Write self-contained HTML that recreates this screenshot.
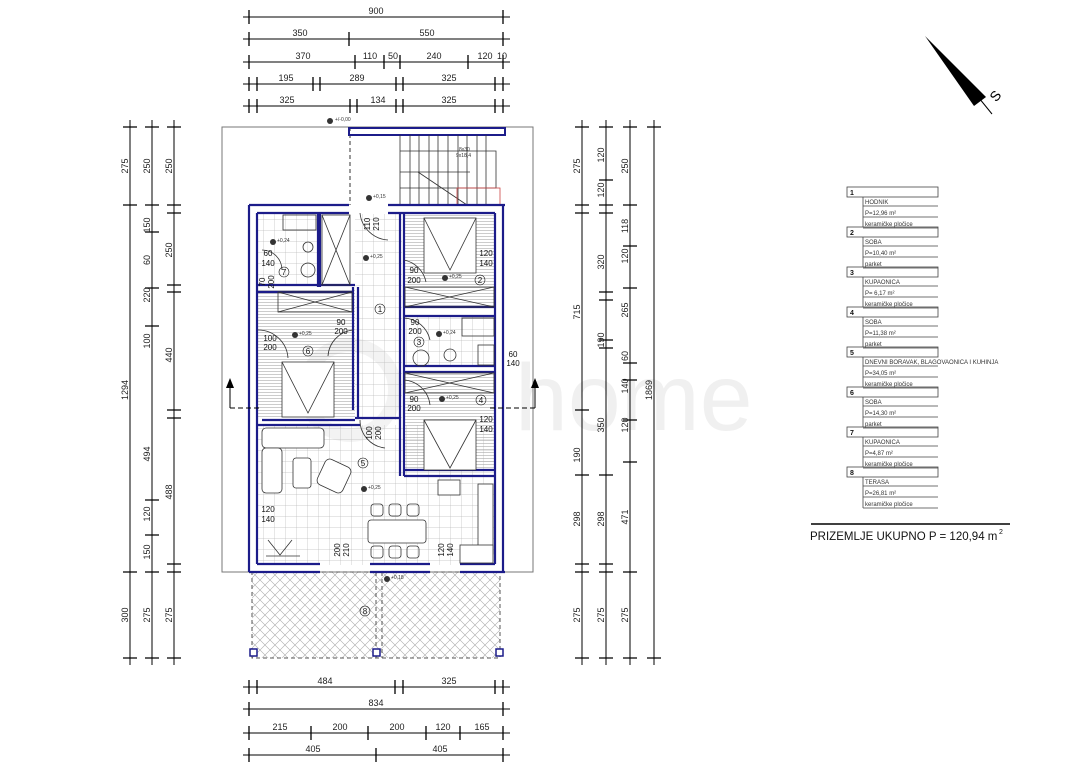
<!DOCTYPE html>
<html><head><meta charset="utf-8"><style>
html,body{margin:0;padding:0;background:#fff;}
svg{display:block;font-family:"Liberation Sans",sans-serif;}
.d{stroke:#000;stroke-width:1;fill:none}
.t{font-size:9px;fill:#222;text-anchor:middle}
.w{fill:none;stroke:#1c1c8a;stroke-width:2.2}
.lg{font-size:6px;fill:#333}
</style></head><body>
<svg width="1077" height="778" viewBox="0 0 1077 778" xmlns="http://www.w3.org/2000/svg">
<defs>
<pattern id="tile" width="11" height="11" patternUnits="userSpaceOnUse"><path d="M11 0V11M0 11H11" stroke="#bbb" stroke-width="0.7" fill="none"/></pattern>
<pattern id="park" width="6" height="3" patternUnits="userSpaceOnUse"><path d="M0 2.5H6" stroke="#aaa" stroke-width="0.6"/></pattern>
<pattern id="hatch" width="10" height="10" patternUnits="userSpaceOnUse"><path d="M0 0L10 10M10 0L0 10" stroke="#aaa" stroke-width="0.6"/></pattern>
</defs>

<!-- watermark -->
<text x="515" y="430" font-size="95" fill="#f0f0f0">home</text>
<circle cx="350" cy="390" r="45" fill="none" stroke="#f3f3f3" stroke-width="14"/>

<!-- top dimensions -->
<g class="d">
<line x1="243" y1="17" x2="510" y2="17"/>
<line x1="243" y1="39" x2="510" y2="39"/>
<line x1="243" y1="62" x2="510" y2="62"/>
<line x1="243" y1="84" x2="510" y2="84"/>
<line x1="243" y1="106" x2="510" y2="106"/>
<line x1="243" y1="687" x2="510" y2="687"/>
<line x1="243" y1="709" x2="510" y2="709"/>
<line x1="243" y1="733" x2="510" y2="733"/>
<line x1="243" y1="755" x2="510" y2="755"/>
</g>
<g stroke="#000" stroke-width="1.3">
<path d="M249 10V24M503 10V24M249 32V46M349 32V46M503 32V46M249 55V69M355 55V69M384 55V69M400 55V69M468 55V69M503 55V69M249 77V91M257 77V91M313 77V91M320 77V91M396 77V91M403 77V91M495 77V91M503 77V91M249 99V113M257 99V113M350 99V113M357 99V113M396 99V113M403 99V113M495 99V113M503 99V113"/>
<path d="M249 680V694M257 680V694M395 680V694M403 680V694M495 680V694M503 680V694M249 702V716M503 702V716M249 726V740M311 726V740M368 726V740M426 726V740M460 726V740M503 726V740M249 748V762M376 748V762M503 748V762"/>
</g>
<g class="t">
<text x="376" y="14">900</text>
<text x="300" y="36">350</text><text x="427" y="36">550</text>
<text x="303" y="59">370</text><text x="370" y="59">110</text><text x="393" y="59">50</text><text x="434" y="59">240</text><text x="485" y="59">120</text><text x="502" y="59">10</text>
<text x="286" y="81">195</text><text x="357" y="81">289</text><text x="449" y="81">325</text>
<text x="287" y="103">325</text><text x="378" y="103">134</text><text x="449" y="103">325</text>
<text x="325" y="684">484</text><text x="449" y="684">325</text>
<text x="376" y="706">834</text>
<text x="280" y="730">215</text><text x="340" y="730">200</text><text x="397" y="730">200</text><text x="443" y="730">120</text><text x="482" y="730">165</text>
<text x="313" y="752">405</text><text x="440" y="752">405</text>
</g>

<!-- vertical dims -->
<g class="d">
<line x1="130" y1="120" x2="130" y2="665"/>
<line x1="152" y1="120" x2="152" y2="665"/>
<line x1="174" y1="120" x2="174" y2="665"/>
<line x1="582" y1="120" x2="582" y2="665"/>
<line x1="606" y1="120" x2="606" y2="665"/>
<line x1="630" y1="120" x2="630" y2="665"/>
<line x1="654" y1="120" x2="654" y2="665"/>
</g>
<g stroke="#000" stroke-width="1.3">
<path d="M123 127H137M123 205H137M123 572H137M123 658H137"/>
<path d="M145 127H159M145 205H159M145 232H159M145 288H159M145 326H159M145 500H159M145 535H159M145 572H159M145 658H159"/>
<path d="M167 127H181M167 205H181M167 213H181M167 285H181M167 292H181M167 410H181M167 418H181M167 564H181M167 572H181M167 658H181"/>
<path d="M575 127H589M575 205H589M575 213H589M575 410H589M575 475H589M575 564H589M575 572H589M575 658H589"/>
<path d="M599 127H613M599 180H613M599 205H613M599 213H613M599 292H613M599 300H613M599 340H613M599 348H613M599 475H613M599 564H613M599 572H613M599 658H613"/>
<path d="M623 127H637M623 205H637M623 246H637M623 288H637M623 363H637M623 380H637M623 420H637M623 462H637M623 572H637M623 658H637"/>
<path d="M647 127H661M647 658H661"/>
</g>
<g class="t">
<text transform="translate(128,166) rotate(-90)">275</text>
<text transform="translate(128,390) rotate(-90)">1294</text>
<text transform="translate(128,615) rotate(-90)">300</text>
<text transform="translate(150,166) rotate(-90)">250</text>
<text transform="translate(150,225) rotate(-90)">150</text>
<text transform="translate(150,260) rotate(-90)">60</text>
<text transform="translate(150,295) rotate(-90)">220</text>
<text transform="translate(150,341) rotate(-90)">100</text>
<text transform="translate(150,454) rotate(-90)">494</text>
<text transform="translate(150,514) rotate(-90)">120</text>
<text transform="translate(150,552) rotate(-90)">150</text>
<text transform="translate(150,615) rotate(-90)">275</text>
<text transform="translate(172,166) rotate(-90)">250</text>
<text transform="translate(172,250) rotate(-90)">250</text>
<text transform="translate(172,355) rotate(-90)">440</text>
<text transform="translate(172,492) rotate(-90)">488</text>
<text transform="translate(172,615) rotate(-90)">275</text>
<text transform="translate(580,166) rotate(-90)">275</text>
<text transform="translate(580,312) rotate(-90)">715</text>
<text transform="translate(580,455) rotate(-90)">190</text>
<text transform="translate(580,519) rotate(-90)">298</text>
<text transform="translate(580,615) rotate(-90)">275</text>
<text transform="translate(604,155) rotate(-90)">120</text>
<text transform="translate(604,190) rotate(-90)">120</text>
<text transform="translate(604,262) rotate(-90)">320</text>
<text transform="translate(604,340) rotate(-90)">190</text>
<text transform="translate(604,425) rotate(-90)">350</text>
<text transform="translate(604,519) rotate(-90)">298</text>
<text transform="translate(604,615) rotate(-90)">275</text>
<text transform="translate(628,166) rotate(-90)">250</text>
<text transform="translate(628,226) rotate(-90)">118</text>
<text transform="translate(628,256) rotate(-90)">120</text>
<text transform="translate(628,310) rotate(-90)">265</text>
<text transform="translate(628,356) rotate(-90)">60</text>
<text transform="translate(628,386) rotate(-90)">140</text>
<text transform="translate(628,425) rotate(-90)">120</text>
<text transform="translate(628,517) rotate(-90)">471</text>
<text transform="translate(628,615) rotate(-90)">275</text>
<text transform="translate(652,390) rotate(-90)">1869</text>
</g>

<!-- site outline -->
<rect x="222" y="127" width="311" height="445" fill="none" stroke="#777" stroke-width="1"/>
<line x1="350" y1="127" x2="350" y2="205" stroke="#333" stroke-dasharray="4,3"/>

<!-- stairs -->
<g stroke="#333" stroke-width="0.8" fill="none">
<rect x="349" y="128" width="156" height="7" stroke="#1c1c8a" stroke-width="2"/>
<path d="M400 135V205M410 135V205M419 135V205M429 135V205M438 135V205M448 135V205M458 135V205M467 135V205M477 135V205M486 135V205"/>
<path d="M400 151H496V188H400M400 172H470"/>
<path d="M418 172L467 205"/>
</g>
<rect x="457" y="188" width="43" height="17" fill="none" stroke="#c44" stroke-width="0.8"/>
<text x="459" y="151" font-size="5" fill="#333">8x30</text>
<text x="456" y="157" font-size="5" fill="#333">9x18,4</text>

<!-- floor fills -->
<rect x="355" y="214" width="47" height="206" fill="url(#tile)"/>
<rect x="258" y="214" width="60" height="70" fill="url(#tile)"/>
<rect x="404" y="316" width="92" height="50" fill="url(#tile)"/>
<rect x="258" y="425" width="236" height="140" fill="url(#tile)"/>
<rect x="258" y="288" width="97" height="130" fill="url(#park)"/>
<rect x="404" y="214" width="90" height="93" fill="url(#park)"/>
<rect x="404" y="372" width="92" height="98" fill="url(#park)"/>
<rect x="252" y="572" width="248" height="86" fill="url(#hatch)"/>
<rect x="252" y="572" width="248" height="86" fill="none" stroke="#555" stroke-dasharray="4,3"/>
<line x1="376" y1="572" x2="376" y2="658" stroke="#555" stroke-dasharray="4,3"/>
<line x1="382" y1="572" x2="382" y2="658" stroke="#555" stroke-dasharray="4,3"/>
<g fill="#fff" stroke="#1c1c8a" stroke-width="1.5">
<rect x="250" y="649" width="7" height="7"/><rect x="373" y="649" width="7" height="7"/><rect x="496" y="649" width="7" height="7"/>
</g>

<!-- walls -->
<g class="w">
<path d="M249 205H349M388 205H505M249 205V572M503 205V572M249 572H320M370 572H430M460 572H505"/>
<path d="M257 213H349M388 213H495M257 213V564M495 213V564M257 564H320M370 564H430M460 564H495"/>
<path d="M318 213V287M320 213V287M257 285H355M257 292H353M353 287V410M358 287V418M355 418H400M400 213V476M404 213V476"/>
<path d="M404 307H495M404 316H495M404 366H495M404 372H495M404 470H495M404 476H495M262 420H355M258 425H360"/>
</g>
<g stroke="#333" stroke-width="0.8" fill="none">
<rect x="322" y="215" width="28" height="70"/><path d="M322 215L350 285M350 215L322 285"/>
<rect x="278" y="292" width="74" height="20"/><path d="M278 292L352 312M352 292L278 312"/>
<rect x="405" y="287" width="89" height="20"/><path d="M405 287L494 307M494 287L405 307"/>
<rect x="405" y="373" width="89" height="20"/><path d="M405 373L494 393M494 373L405 393"/>
<rect x="424" y="218" width="52" height="55" fill="#fff"/><path d="M424 218L450 270L476 218"/>
<rect x="282" y="362" width="52" height="55" fill="#fff"/><path d="M282 362L308 413L334 362"/>
<rect x="424" y="420" width="52" height="50" fill="#fff"/><path d="M424 420L450 468L476 420"/>
<rect x="262" y="428" width="62" height="20" rx="4" fill="#fff"/>
<rect x="262" y="448" width="20" height="45" rx="4" fill="#fff"/>
<rect x="293" y="458" width="18" height="30" rx="3" fill="#fff"/>
<rect x="320" y="462" width="28" height="28" rx="5" fill="#fff" transform="rotate(25 334 476)"/>
<rect x="368" y="520" width="58" height="23" rx="3" fill="#fff"/>
<rect x="371" y="504" width="12" height="12" rx="3"/><rect x="389" y="504" width="12" height="12" rx="3"/><rect x="407" y="504" width="12" height="12" rx="3"/>
<rect x="371" y="546" width="12" height="12" rx="3"/><rect x="389" y="546" width="12" height="12" rx="3"/><rect x="407" y="546" width="12" height="12" rx="3"/>
<rect x="438" y="480" width="22" height="15" fill="#fff"/>
<rect x="478" y="484" width="15" height="70" fill="#fff"/>
<rect x="460" y="545" width="33" height="18" fill="#fff"/>
<path d="M268 540L280 555L292 540M266 556H300"/>
<rect x="283" y="215" width="33" height="15"/><circle cx="308" cy="247" r="5"/><circle cx="308" cy="270" r="7"/>
<rect x="462" y="318" width="32" height="18"/><circle cx="450" cy="355" r="6"/><circle cx="421" cy="358" r="8"/><rect x="478" y="345" width="16" height="20"/>
<path d="M360 213A30 30 0 0 0 388 240M262 250A20 20 0 0 1 282 270M404 260A28 28 0 0 1 426 282M353 330A28 28 0 0 0 328 356M404 318A28 28 0 0 1 430 340M258 330A30 30 0 0 1 288 358M404 380A28 28 0 0 1 430 405M360 420A28 28 0 0 0 385 448"/>
</g>

<!-- labels in plan -->
<g font-size="8" fill="#111" text-anchor="middle">
<text x="268" y="256">60</text><text x="268" y="266">140</text>
<text x="414" y="273">90</text><text x="414" y="283">200</text>
<text x="486" y="256">120</text><text x="486" y="266">140</text>
<text x="341" y="325">90</text><text x="341" y="334">200</text>
<text x="270" y="341">100</text><text x="270" y="350">200</text>
<text x="415" y="325">90</text><text x="415" y="334">200</text>
<text x="513" y="357">60</text><text x="513" y="366">140</text>
<text x="414" y="402">90</text><text x="414" y="411">200</text>
<text x="486" y="422">120</text><text x="486" y="432">140</text>
<text x="268" y="512">120</text><text x="268" y="522">140</text>
<text transform="translate(340,550) rotate(-90)">200</text><text transform="translate(349,550) rotate(-90)">210</text>
<text transform="translate(444,550) rotate(-90)">120</text><text transform="translate(453,550) rotate(-90)">140</text>
<text transform="translate(372,433) rotate(-90)">100</text><text transform="translate(381,433) rotate(-90)">200</text>
<text transform="translate(370,224) rotate(-90)">110</text><text transform="translate(379,224) rotate(-90)">210</text>
<text transform="translate(265,282) rotate(-90)">70</text><text transform="translate(274,282) rotate(-90)">200</text>
</g>
<g stroke="#111" stroke-width="0.6" fill="none">
<circle cx="284" cy="272" r="5"/><circle cx="380" cy="309" r="5"/><circle cx="480" cy="280" r="5"/>
<circle cx="419" cy="342" r="5"/><circle cx="481" cy="400" r="5"/><circle cx="363" cy="463" r="5"/>
<circle cx="308" cy="351" r="5"/><circle cx="365" cy="611" r="5"/>
</g>
<g font-size="8" fill="#111" text-anchor="middle">
<text x="284" y="275">7</text><text x="380" y="312">1</text><text x="480" y="283">2</text><text x="419" y="345">3</text>
<text x="481" y="403">4</text><text x="363" y="466">5</text><text x="308" y="354">6</text><text x="365" y="614">8</text>
</g>
<g font-size="5" fill="#333">
<circle cx="330" cy="121" r="3"/><text x="335" y="121">+/-0,00</text>
<circle cx="369" cy="198" r="3"/><text x="373" y="198">+0,15</text>
<circle cx="273" cy="242" r="3"/><text x="277" y="242">+0,24</text>
<circle cx="366" cy="258" r="3"/><text x="370" y="258">+0,25</text>
<circle cx="445" cy="278" r="3"/><text x="449" y="278">+0,25</text>
<circle cx="295" cy="335" r="3"/><text x="299" y="335">+0,25</text>
<circle cx="439" cy="334" r="3"/><text x="443" y="334">+0,24</text>
<circle cx="442" cy="399" r="3"/><text x="446" y="399">+0,25</text>
<circle cx="364" cy="489" r="3"/><text x="368" y="489">+0,25</text>
<circle cx="387" cy="579" r="3"/><text x="391" y="579">+0,18</text>
</g>

<!-- section markers -->
<g stroke="#000" stroke-width="1">
<path d="M230 408H262M490 408H535" stroke-dasharray="5,3"/>
<path d="M230 408V385M535 408V385"/>
</g>
<path d="M226 388L230 378L234 388Z M531 388L535 378L539 388Z" fill="#000"/>

<!-- north arrow -->
<path d="M925 36L986 97L974 106Z" fill="#000"/>
<line x1="979" y1="98" x2="992" y2="114" stroke="#000"/>
<text x="993" y="104" font-size="14" transform="rotate(-50 993 100)" fill="#000">S</text>

<!-- legend -->
<g stroke="#444" stroke-width="0.8" fill="none">
<rect x="847" y="187" width="91" height="10"/><rect x="847" y="227" width="91" height="10"/><rect x="847" y="267" width="91" height="10"/><rect x="847" y="307" width="91" height="10"/>
<rect x="847" y="347" width="91" height="10"/><rect x="847" y="387" width="91" height="10"/><rect x="847" y="427" width="91" height="10"/><rect x="847" y="467" width="91" height="10"/>
<path d="M863 197V227M863 237V267M863 277V307M863 317V347M863 357V387M863 397V427M863 437V467M863 477V508"/>
<path d="M863 206H938M863 217H938M863 228H938M863 246H938M863 257H938M863 268H938M863 286H938M863 297H938M863 308H938M863 326H938M863 337H938M863 348H938M863 366H938M863 377H938M863 388H938M863 406H938M863 417H938M863 428H938M863 446H938M863 457H938M863 468H938M863 486H938M863 497H938M863 508H938"/>
</g>
<g font-size="7" font-weight="bold" fill="#111">
<text x="850" y="195">1</text><text x="850" y="235">2</text><text x="850" y="275">3</text><text x="850" y="315">4</text>
<text x="850" y="355">5</text><text x="850" y="395">6</text><text x="850" y="435">7</text><text x="850" y="475">8</text>
</g>
<g class="lg">
<text x="865" y="204">HODNIK</text><text x="865" y="215">P=12,96 m²</text><text x="865" y="226">keramičke pločice</text>
<text x="865" y="244">SOBA</text><text x="865" y="255">P=10,40 m²</text><text x="865" y="266">parket</text>
<text x="865" y="284">KUPAONICA</text><text x="865" y="295">P= 6,17 m²</text><text x="865" y="306">keramičke pločice</text>
<text x="865" y="324">SOBA</text><text x="865" y="335">P=11,38 m²</text><text x="865" y="346">parket</text>
<text x="865" y="364">DNEVNI BORAVAK, BLAGOVAONICA I KUHINJA</text><text x="865" y="375">P=34,05 m²</text><text x="865" y="386">keramičke pločice</text>
<text x="865" y="404">SOBA</text><text x="865" y="415">P=14,30 m²</text><text x="865" y="426">parket</text>
<text x="865" y="444">KUPAONICA</text><text x="865" y="455">P=4,87 m²</text><text x="865" y="466">keramičke pločice</text>
<text x="865" y="484">TERASA</text><text x="865" y="495">P=26,81 m²</text><text x="865" y="506">keramičke pločice</text>
</g>
<line x1="811" y1="524" x2="1010" y2="524" stroke="#000" stroke-width="1.5"/>
<text x="810" y="540" font-size="11.5" fill="#111">PRIZEMLJE UKUPNO  P = 120,94 m</text>
<text x="999" y="534" font-size="7" fill="#111">2</text>
</svg>
</body></html>
